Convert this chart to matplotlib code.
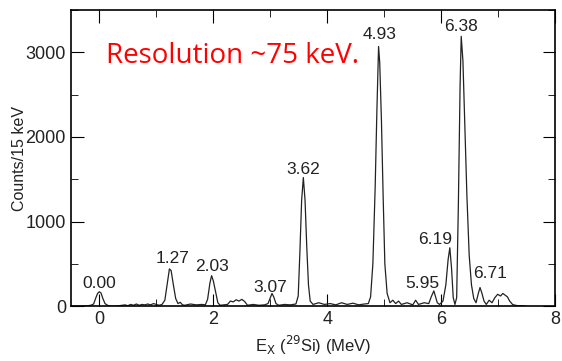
import matplotlib.pyplot as plt

plt.rcParams['font.family'] = ['Liberation Sans', 'DejaVu Sans']

# spectrum trace (E in MeV, counts / 15 keV)
energy = [-0.50, -0.30, -0.20, -0.15, -0.10, -0.06, -0.03, 0.00, 0.03, 0.06, 0.10, 0.15,
          0.20, 0.30, 0.45, 0.50, 0.55, 0.60, 0.65, 0.70, 0.75, 0.80, 0.85, 0.90, 0.95, 1.05,
          1.10, 1.15, 1.20, 1.23, 1.26, 1.30, 1.34, 1.38, 1.42, 1.46, 1.50, 1.60, 1.70, 1.80,
          1.86, 1.90, 1.94, 1.97, 2.00, 2.04, 2.08, 2.12, 2.18, 2.25, 2.30, 2.35, 2.40, 2.45,
          2.50, 2.55, 2.60, 2.70, 2.80, 2.90, 2.96, 3.00, 3.03, 3.06, 3.10, 3.15, 3.25, 3.35,
          3.45, 3.49, 3.52, 3.55, 3.58, 3.61, 3.64, 3.67, 3.70, 3.75, 3.85, 3.95, 4.05, 4.15,
          4.25, 4.35, 4.45, 4.55, 4.65, 4.72, 4.76, 4.80, 4.84, 4.87, 4.90, 4.92, 4.95, 4.98,
          5.01, 5.05, 5.10, 5.15, 5.20, 5.25, 5.30, 5.40, 5.50, 5.55, 5.60, 5.70, 5.78, 5.83,
          5.87, 5.90, 5.93, 5.97, 6.03, 6.08, 6.12, 6.15, 6.18, 6.21, 6.24, 6.27, 6.30, 6.33,
          6.35, 6.38, 6.41, 6.45, 6.49, 6.53, 6.57, 6.61, 6.65, 6.68, 6.71, 6.75, 6.79, 6.84,
          6.89, 6.94, 6.99, 7.04, 7.08, 7.12, 7.16, 7.20, 7.25, 7.30, 7.35, 7.40, 7.48]
counts = [0, 0, 5, 10, 25, 100, 150, 170, 155, 95, 30, 8,
          0, 0, 15, 5, 20, 10, 25, 10, 20, 15, 25, 15, 30, 10,
          20, 70, 300, 440, 420, 250, 90, 30, 45, 15, 10, 25, 15, 20,
          15, 80, 270, 360, 300, 170, 40, 10, 15, 20, 60, 50, 75, 60,
          80, 55, 10, 20, 10, 15, 30, 100, 150, 110, 30, 10, 20, 15,
          25, 120, 650, 1250, 1520, 1250, 700, 250, 60, 20, 40, 20, 30, 15,
          40, 20, 35, 15, 25, 30, 110, 500, 1400, 2300, 3070, 2880, 2200, 1300,
          500, 150, 40, 70, 30, 60, 20, 40, 15, 70, 20, 40, 30, 120,
          180, 110, 40, 20, 60, 250, 550, 690, 450, 100, 20, 100, 1200, 2600,
          3190, 2900, 2200, 1300, 600, 250, 90, 40, 150, 220, 160, 60, 20, 70,
          40, 100, 140, 120, 150, 130, 110, 60, 20, 10, 5, 5, 0]

peak_labels = ["0.00", "1.27", "2.03", "3.07", "3.62", "4.93", "5.95", "6.19", "6.38", "6.71"]
label_x = [0.0, 1.28, 1.98, 3.0, 3.58, 4.91, 5.66, 5.89, 6.35, 6.85]
label_y = [273, 569, 474, 225, 1610, 3215, 273, 783, 3310, 391]

fig = plt.figure(figsize=(5.62, 3.61), dpi=100)
ax = fig.add_axes([0.126, 0.152, 0.862, 0.820])

ax.plot(energy, counts, color='#222222', lw=0.9)

for t, x, y in zip(peak_labels, label_x, label_y):
    ax.text(x, y, t, ha='center', va='center', fontsize=12.5, color='#222222')

ax.text(0.12, 2960, 'Resolution ~75 keV.', color='red', fontsize=20,
        family='Open Sans', va='center', ha='left')

ax.set_xlim(-0.5, 8)
ax.set_ylim(0, 3500)
ax.set_xticks([0, 2, 4, 6, 8])
ax.set_xticks([1, 3, 5, 7], minor=True)
ax.set_yticks([0, 1000, 2000, 3000])
ax.set_yticks([500, 1500, 2500, 3500], minor=True)
ax.tick_params(which='both', direction='in', top=True, right=True,
               labelsize=13, labelcolor='#222222')
ax.tick_params(which='major', length=9)
ax.tick_params(which='minor', length=5)
for s in ax.spines.values():
    s.set_linewidth(1.2)

ax.set_ylabel('Counts/15 keV', fontsize=11.5, color='#222222', labelpad=-1)
ax.set_xlabel(r'E$_{\mathrm{X}}$ ($^{29}$Si) (MeV)', fontsize=12, color='#222222')

fig.savefig('out.png', dpi=100)
